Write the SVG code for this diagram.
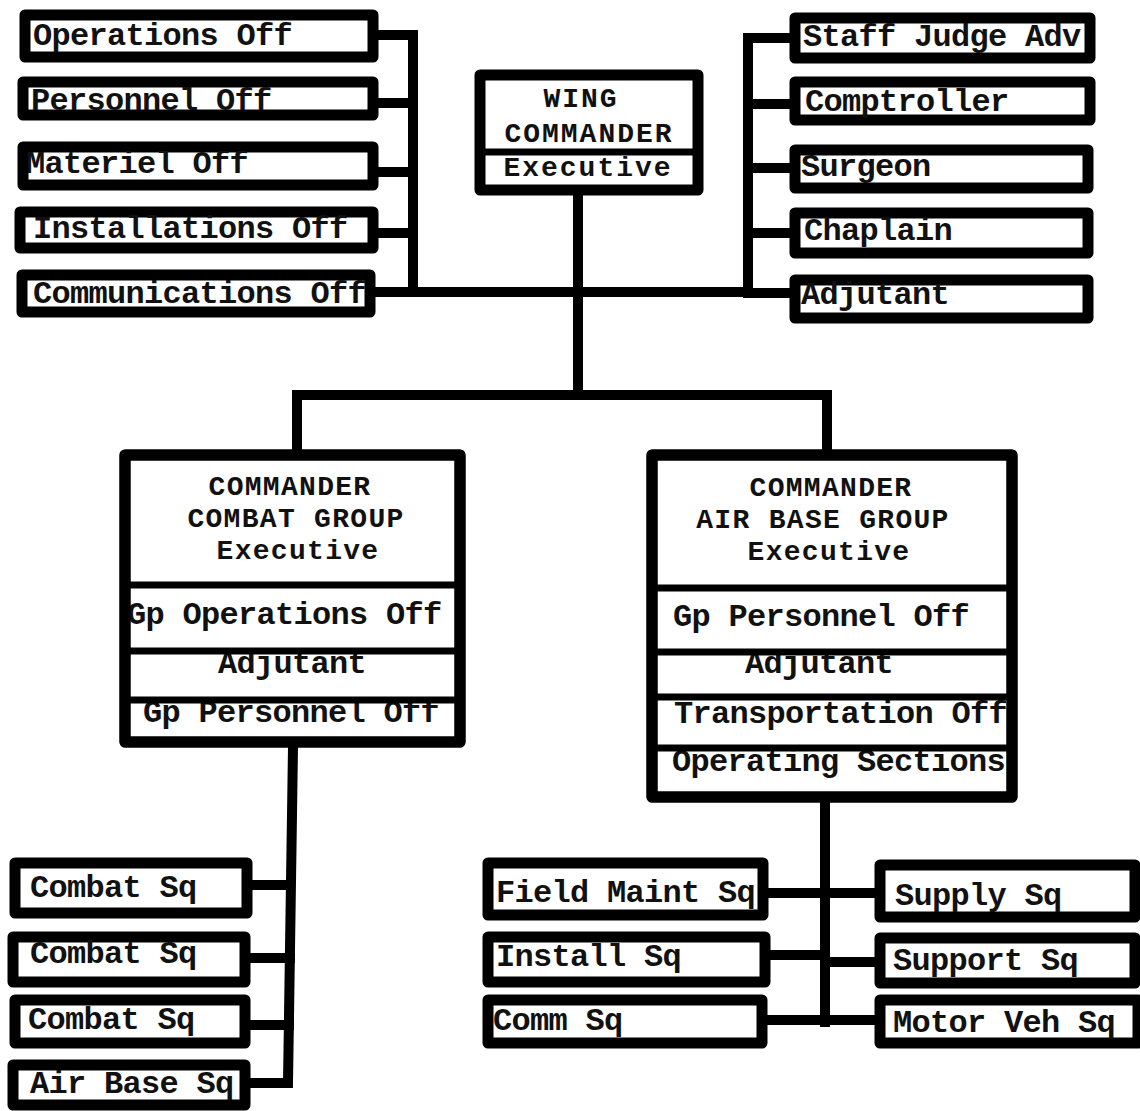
<svg xmlns="http://www.w3.org/2000/svg" width="1140" height="1111" viewBox="0 0 1140 1111">
  <style>
    .box { fill: #fff; stroke: #000; stroke-width: 11; stroke-linejoin: round; }
    .frame { fill: none; stroke: #000; stroke-width: 11; stroke-linejoin: round; }
    .div { stroke: #000; stroke-width: 7; }
    .wire { fill: none; stroke: #000; stroke-width: 10; stroke-linejoin: miter; stroke-linecap: square; }
    text { font-family: "Liberation Mono", "DejaVu Sans Mono", monospace; font-weight: bold; font-size: 32px; letter-spacing: -0.7px; fill: #111; }
    .c { text-anchor: middle; }
    .h { font-size: 28px; letter-spacing: 1.3px; }
    .hw { font-size: 28px; letter-spacing: 2px; }
  </style>
  <defs>
    <clipPath id="clipComm"><rect x="26" y="279" width="340" height="29"/></clipPath>
    <clipPath id="clipMat"><rect x="28" y="151" width="340" height="30"/></clipPath>
    <clipPath id="clipSja"><rect x="799" y="22" width="287" height="32"/></clipPath>
    <clipPath id="clipCombat"><rect x="130" y="460" width="325" height="277"/></clipPath>
    <clipPath id="clipAirBase"><rect x="657" y="460" width="350" height="332"/></clipPath>
    <clipPath id="clipField"><rect x="492" y="867" width="266" height="44"/></clipPath>
    <clipPath id="clipMotor"><rect x="884" y="1004" width="256" height="35"/></clipPath>
  </defs>

  <rect width="1140" height="1111" fill="#fff"/>

  <!-- connector lines -->
  <g id="connectors">
    <path class="wire" d="M378,35 H413 V292"/>
    <path class="wire" d="M378,103 H413"/>
    <path class="wire" d="M378,172 H413"/>
    <path class="wire" d="M378,233 H413"/>
    <path class="wire" d="M375,292 H748"/>
    <path class="wire" d="M790,38 H748 V293 H790"/>
    <path class="wire" d="M790,104 H748"/>
    <path class="wire" d="M790,168 H748"/>
    <path class="wire" d="M790,233 H748"/>
    <path class="wire" d="M578,195 V395"/>
    <path class="wire" d="M297,450 V395 H827 V450"/>
    <path class="wire" d="M293,747 L288,1083 H250"/>
    <path class="wire" d="M252,885 H290"/>
    <path class="wire" d="M250,958 H290"/>
    <path class="wire" d="M250,1025 H289"/>
    <path class="wire" d="M825,802 V1022"/>
    <path class="wire" d="M768,893 H875"/>
    <path class="wire" d="M770,955 H825"/>
    <path class="wire" d="M825,962 H875"/>
    <path class="wire" d="M767,1020 H875"/>
  </g>

  <!-- wing staff, left column -->
  <g id="operations-off">
    <rect class="box" x="25" y="15" width="348" height="42"/>
    <text x="33" y="45">Operations Off</text>
  </g>
  <g id="personnel-off">
    <rect class="box" x="23" y="82" width="350" height="33"/>
    <text x="31" y="110">Personnel Off</text>
  </g>
  <g id="materiel-off">
    <rect class="box" x="23" y="147" width="350" height="38"/>
    <text x="26" y="173" clip-path="url(#clipMat)">Materiel Off</text>
  </g>
  <g id="installations-off">
    <rect class="box" x="20" y="212" width="353" height="36"/>
    <text x="33" y="238">Installations Off</text>
  </g>
  <g id="communications-off">
    <rect class="box" x="22" y="275" width="348" height="37"/>
    <text x="33" y="303" clip-path="url(#clipComm)">Communications Off</text>
  </g>

  <!-- wing staff, right column -->
  <g id="staff-judge-adv">
    <rect class="box" x="795" y="18" width="295" height="40"/>
    <text x="803" y="46" clip-path="url(#clipSja)">Staff Judge Adv</text>
  </g>
  <g id="comptroller">
    <rect class="box" x="795" y="82" width="295" height="38"/>
    <text x="805" y="111">Comptroller</text>
  </g>
  <g id="surgeon">
    <rect class="box" x="795" y="150" width="293" height="38"/>
    <text x="801" y="176">Surgeon</text>
  </g>
  <g id="chaplain">
    <rect class="box" x="795" y="213" width="293" height="40"/>
    <text x="804" y="240">Chaplain</text>
  </g>
  <g id="adjutant">
    <rect class="box" x="795" y="280" width="293" height="38"/>
    <text x="801" y="304">Adjutant</text>
  </g>

  <!-- wing commander -->
  <g id="wing-commander">
    <rect class="box" x="480" y="75" width="218" height="115"/>
    <line class="div" x1="480" y1="152" x2="698" y2="152"/>
    <text class="c hw" x="581" y="107">WING</text>
    <text class="c hw" x="589" y="142">COMMANDER</text>
    <text class="c hw" x="588" y="176">Executive</text>
  </g>

  <!-- combat group -->
  <g id="combat-group">
    <rect class="box" x="125" y="455" width="335" height="287"/>
    <g clip-path="url(#clipCombat)">
      <text class="c h" x="290" y="495">COMMANDER</text>
      <text class="c h" x="296" y="527">COMBAT GROUP</text>
      <text class="c h" x="298" y="559">Executive</text>
      <text x="127" y="624">Gp Operations Off</text>
      <text class="c" x="292" y="673">Adjutant</text>
      <text x="143" y="722">Gp Personnel Off</text>
    </g>
    <line class="div" x1="125" y1="585" x2="460" y2="585"/>
    <line class="div" x1="125" y1="651" x2="460" y2="651"/>
    <line class="div" x1="125" y1="700" x2="460" y2="700"/>
    <rect class="frame" x="125" y="455" width="335" height="287"/>
  </g>

  <!-- air base group -->
  <g id="air-base-group">
    <rect class="box" x="652" y="455" width="360" height="342"/>
    <g clip-path="url(#clipAirBase)">
      <text class="c h" x="831" y="496">COMMANDER</text>
      <text class="c h" x="823" y="528">AIR BASE GROUP</text>
      <text class="c h" x="829" y="560">Executive</text>
      <text x="673" y="626">Gp Personnel Off</text>
      <text class="c" x="819" y="673">Adjutant</text>
      <text x="674" y="723">Transportation Off</text>
      <text x="672" y="771">Operating Sections</text>
    </g>
    <line class="div" x1="652" y1="588" x2="1012" y2="588"/>
    <line class="div" x1="652" y1="652" x2="1012" y2="652"/>
    <line class="div" x1="652" y1="697" x2="1012" y2="697"/>
    <line class="div" x1="652" y1="748" x2="1012" y2="748"/>
    <rect class="frame" x="652" y="455" width="360" height="342"/>
  </g>

  <!-- combat group squadrons -->
  <g id="combat-sq-1">
    <rect class="box" x="15" y="863" width="232" height="50"/>
    <text x="30" y="897">Combat Sq</text>
  </g>
  <g id="combat-sq-2">
    <rect class="box" x="13" y="937" width="232" height="45"/>
    <text x="30" y="963">Combat Sq</text>
  </g>
  <g id="combat-sq-3">
    <rect class="box" x="15" y="1000" width="230" height="43"/>
    <text x="28" y="1029">Combat Sq</text>
  </g>
  <g id="air-base-sq">
    <rect class="box" x="13" y="1065" width="232" height="40"/>
    <text x="30" y="1093">Air Base Sq</text>
  </g>

  <!-- air base group squadrons -->
  <g id="field-maint-sq">
    <rect class="box" x="488" y="863" width="275" height="52"/>
    <text x="496" y="902" clip-path="url(#clipField)">Field Maint Sq</text>
  </g>
  <g id="install-sq">
    <rect class="box" x="488" y="937" width="277" height="45"/>
    <text x="496" y="966">Install Sq</text>
  </g>
  <g id="comm-sq">
    <rect class="box" x="488" y="1000" width="274" height="43"/>
    <text x="493" y="1030">Comm Sq</text>
  </g>
  <g id="supply-sq">
    <rect class="box" x="880" y="865" width="255" height="52"/>
    <text x="895" y="905">Supply Sq</text>
  </g>
  <g id="support-sq">
    <rect class="box" x="880" y="938" width="255" height="45"/>
    <text x="893" y="970">Support Sq</text>
  </g>
  <g id="motor-veh-sq">
    <rect class="box" x="880" y="1000" width="258" height="43"/>
    <text x="893" y="1032" clip-path="url(#clipMotor)">Motor Veh  Sq</text>
  </g>
</svg>
